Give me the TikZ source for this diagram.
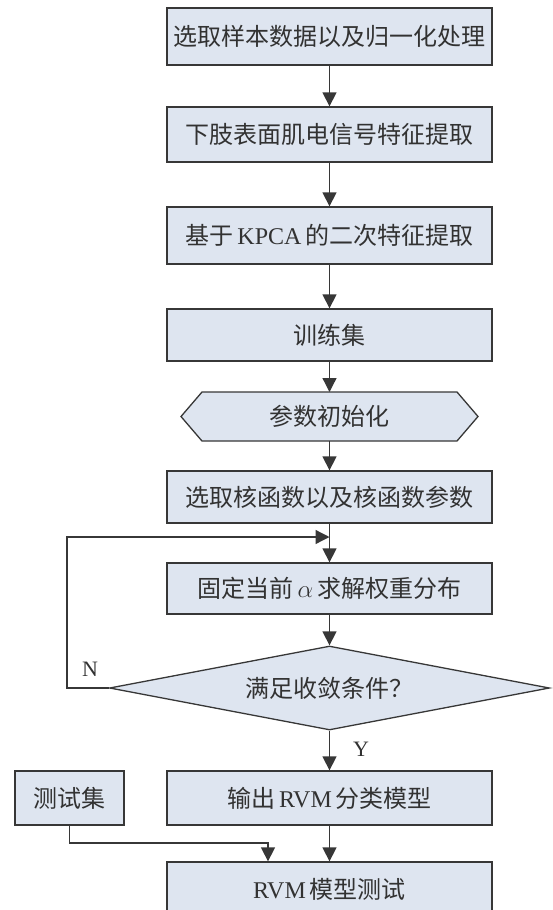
\documentclass[tikz,border=0pt]{standalone}
\usepackage{fontspec}
\setmainfont{Liberation Serif}
\newfontfamily\cjk{Noto Sans CJK SC}
\usetikzlibrary{arrows.meta,shapes.geometric,backgrounds}
\definecolor{boxfill}{RGB}{222,229,240}
\definecolor{ln}{RGB}{55,55,55}
\definecolor{tx}{RGB}{50,50,50}
\newcommand\zh[1]{{\cjk #1}}
\begin{document}
\begin{tikzpicture}[x=1pt,y=-1pt,
  every node/.style={font=\fontsize{24}{29}\selectfont, text=tx},
  proc/.style={rectangle, draw=ln, line width=1.3pt, fill=boxfill,
    minimum width=325pt, minimum height=#1, inner sep=0pt},
  proc/.default=54pt,
  hexnode/.style={rectangle, minimum width=255pt, minimum height=49pt, inner sep=0pt, outer sep=0pt},
  hexline/.style={draw=ln, line width=1.3pt, fill=boxfill},
  dia/.style={diamond, draw=ln, line width=1.3pt, fill=boxfill, shape aspect=5.24,
    minimum width=440pt, minimum height=84pt, inner sep=0pt},
  lab/.style={font=\fontsize{22}{26}\selectfont, inner sep=0pt},
  arr/.style={draw=ln, line width=1.3pt, -{Triangle[length=14pt,width=14pt]}}
]
\useasboundingbox (0,0) rectangle (553,910);

\node[proc=57pt] (b1) at (329.5,36.5) {\zh{选取样本数据以及归一化处理}};
\node[proc=55pt] (b2) at (329.5,134.5) {\zh{下肢表面肌电信号特征提取}};
\node[proc=57pt] (b3) at (329.5,235.5) {\zh{基于}\,KPCA\,\zh{的二次特征提取}};
\node[proc=52pt] (b4) at (329.5,335) {\zh{训练集}};
\node[hexnode] (hex) at (329.5,416.5) {\zh{参数初始化}};
\node[proc=52pt] (b6) at (329.5,497) {\zh{选取核函数以及核函数参数}};
\node[proc=51pt] (b7) at (329.5,588.5) {\zh{固定当前}\,$\alpha$\,\zh{求解权重分布}};
\node[dia] (d) at (329.5,688) {\zh{满足收敛条件？}};
\node[proc=54pt] (b8) at (329.5,798) {\zh{输出}\,RVM\,\zh{分类模型}};
\node[proc=54pt, minimum width=109pt] (test) at (69.5,798) {\zh{测试集}};
\node[proc=54pt] (b9) at (329.5,889) {RVM\,\zh{模型测试}};

\node[lab] (n) at (90,669) {N};
\node[lab] (y) at (361,749) {Y};

\begin{scope}[on background layer]
\draw[hexline] (hex.north west) -- (hex.north east) -- ++(21,24.5) -- (hex.south east)
  -- (hex.south west) -- ++(-21,-24.5) -- cycle;
\end{scope}

\draw[arr] (b1.south) -- (b2.north);
\draw[arr] (b2.south) -- (b3.north);
\draw[arr] (b3.south) -- (b4.north);
\draw[arr] (b4.south) -- (hex.north);
\draw[arr] (hex.south) -- (b6.north);
\draw[arr] (b6.south) -- (b7.north);
\draw[arr] (b7.south) -- (d.north);
\draw[arr] (d.south) -- (b8.north);
\draw[arr] (b8.south) -- (b9.north);

\coordinate (m) at (329.5,537);
\coordinate (lc) at (67,537);
\draw[arr] (d.west) -| (lc) -- (m);

\coordinate (tk) at (268,843);
\draw[arr] (test.south) |- (tk) -- (tk |- b9.north);
\end{tikzpicture}
\end{document}
